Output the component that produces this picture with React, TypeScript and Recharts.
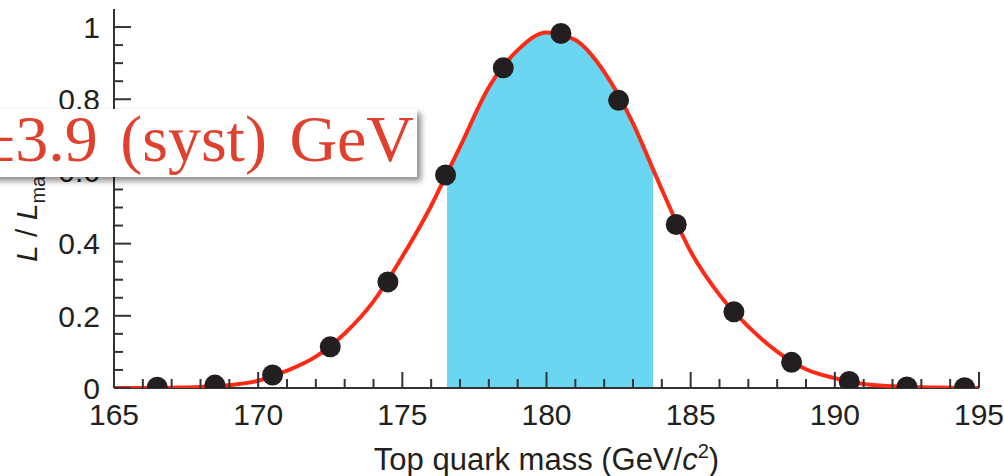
import { ComposedChart, Line, Area, Scatter, XAxis, YAxis, Label } from 'recharts'

// likelihood fit curve (extra rows at the band edges)
const massGrid = [165, 166, 167, 168, 169, 170, 171, 172, 173, 174, 175, 176, 176.55, 177, 178, 179, 180, 181, 182, 183, 183.7, 184, 185, 186, 187, 188, 189, 190, 191, 192, 193, 194, 195]
const fitCurve = [0, 0, 0.001, 0.003, 0.008, 0.02, 0.048, 0.087, 0.151, 0.24, 0.364, 0.505, 0.595, 0.668, 0.833, 0.936, 0.985, 0.964, 0.876, 0.733, 0.605, 0.55, 0.378, 0.258, 0.17, 0.101, 0.052, 0.027, 0.011, 0.005, 0.002, 0.001, 0]
const bandLow = 176.55
const bandHigh = 183.7

// measured points
const pointMass = [166.5, 168.5, 170.5, 172.5, 174.5, 176.5, 178.5, 180.5, 182.5, 184.5, 186.5, 188.5, 190.5, 192.5, 194.5]
const pointL = [0.002, 0.008, 0.036, 0.114, 0.294, 0.59, 0.887, 0.982, 0.797, 0.453, 0.211, 0.071, 0.018, 0.003, 0.001]

const xTicks = [165, 166, 167, 168, 169, 170, 171, 172, 173, 174, 175, 176, 177, 178, 179, 180, 181, 182, 183, 184, 185, 186, 187, 188, 189, 190, 191, 192, 193, 194, 195]
const yTicks = [0, 0.05, 0.1, 0.15, 0.2, 0.25, 0.3, 0.35, 0.4, 0.45, 0.5, 0.55, 0.6, 0.65, 0.7, 0.75, 0.8, 0.85, 0.9, 0.95, 1]

const rows = massGrid.map((m, i) => ({
  m,
  fit: fitCurve[i],
  band: m >= bandLow && m <= bandHigh ? fitCurve[i] : null,
}))
const points = pointMass.map((m, i) => ({ m, L: pointL[i] }))

const SANS = '"Liberation Sans", Arial, Helvetica, sans-serif'
const AXIS = '#333333'
const INK = '#231f20'

function XTick(props: any) {
  const { x, y, payload } = props
  const major = payload.value % 5 === 0
  return (
    <g>
      <line x1={x} x2={x} y1={y} y2={y - (major ? 16 : 9)} stroke={AXIS} strokeWidth={2} />
      {major && (
        <text x={x} y={y + 37} textAnchor="middle" fontSize={30} fontFamily={SANS} fill={INK}>
          {payload.value}
        </text>
      )}
    </g>
  )
}

function YTick(props: any) {
  const { x, y, payload } = props
  const v = payload.value
  const major = Math.round(v * 100) % 20 === 0
  return (
    <g>
      <line x1={x} x2={x + (major ? 17 : 9)} y1={y} y2={y} stroke={AXIS} strokeWidth={2} />
      {major && (
        <text x={x - 14} y={y} dy="0.36em" textAnchor="end" fontSize={30} fontFamily={SANS} fill={INK}>
          {String(Number(v.toFixed(2)))}
        </text>
      )}
    </g>
  )
}

function XTitle(props: any) {
  const vb = props.viewBox || { x: 114, y: 388, width: 865 }
  return (
    <text x={vb.x + vb.width / 2} y={vb.y + 82} textAnchor="middle" fontSize={31} fontFamily={SANS} fill={INK}>
      Top quark mass (GeV/<tspan fontStyle="italic">c</tspan>
      <tspan fontSize={20} dy={-12}>2</tspan>
      <tspan dy={12}>)</tspan>
    </text>
  )
}

function YTitle(props: any) {
  const vb = props.viewBox || { x: 113, y: 9, height: 379 }
  const cx = vb.x - 76
  const cy = vb.y + vb.height - 126
  return (
    <text transform={`rotate(-90 ${cx} ${cy})`} x={cx} y={cy} textAnchor="start" fontSize={30} fontFamily={SANS} fill={INK}>
      <tspan fontStyle="italic">L</tspan> / <tspan fontStyle="italic">L</tspan>
      <tspan fontSize={20} dy={8}>max</tspan>
    </text>
  )
}

export default function App() {
  return (
    <div style={{ position: 'fixed', left: 0, top: 0, width: 1004, height: 476, background: '#fff', overflow: 'hidden' }}>
      <ComposedChart
        width={1004}
        height={476}
        data={rows}
        margin={{ top: 9, right: 25, bottom: 87, left: 113 }}
        style={{ fontFamily: SANS }}
      >
        <XAxis
          dataKey="m"
          type="number"
          domain={[165, 195]}
          ticks={xTicks}
          interval={0}
          height={1}
          tickSize={0}
          tickMargin={0}
          tickLine={false}
          tick={<XTick />}
          axisLine={{ stroke: AXIS, strokeWidth: 2 }}
        >
          <Label content={XTitle} />
        </XAxis>
        <YAxis
          type="number"
          domain={[0, 1.05]}
          allowDataOverflow
          ticks={yTicks}
          interval={0}
          width={1}
          tickSize={0}
          tickMargin={0}
          tickLine={false}
          tick={<YTick />}
          axisLine={{ stroke: AXIS, strokeWidth: 2 }}
        >
          <Label content={YTitle} />
        </YAxis>
        <Area
          dataKey="band"
          type="monotone"
          fill="#6ad6f2"
          fillOpacity={1}
          stroke="none"
          isAnimationActive={false}
          connectNulls={false}
        />
        <Line
          dataKey="fit"
          type="monotone"
          stroke="#ff2a16"
          strokeWidth={4}
          dot={false}
          activeDot={false}
          isAnimationActive={false}
          zIndex={550}
        />
        <Scatter
          data={points}
          dataKey="L"
          isAnimationActive={false}
          shape={(p: any) => <circle cx={p.cx} cy={p.cy} r={10.5} fill={INK} />}
        />
      </ComposedChart>
      <div
        style={{
          position: 'absolute',
          left: -10,
          top: 109,
          width: 427,
          height: 68,
          background: '#fff',
          boxShadow: '4px 4px 6px rgba(0,0,0,0.45)',
        }}
      >
        <span
          style={{
            position: 'absolute',
            left: -11,
            top: -4,
            fontFamily: '"Liberation Serif", "Times New Roman", serif',
            fontSize: 66,
            lineHeight: '68px',
            wordSpacing: 6,
            color: '#e0402e',
            whiteSpace: 'nowrap',
          }}
        >
          ±3.9 (syst) GeV
        </span>
      </div>
    </div>
  )
}
